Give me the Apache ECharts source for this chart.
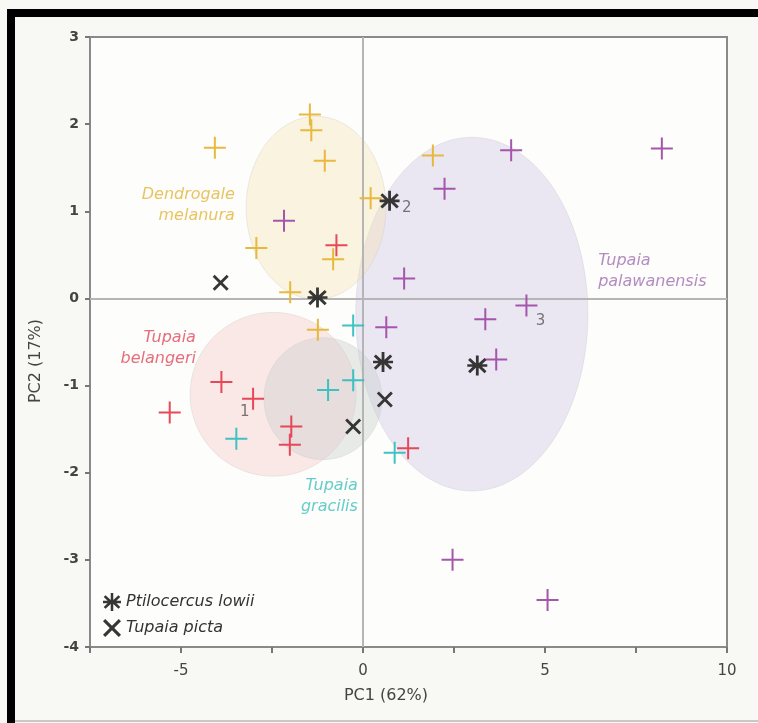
<!DOCTYPE html>
<html>
<head>
<meta charset="utf-8">
<script src="https://cdn.jsdelivr.net/npm/echarts@6/dist/echarts.min.js"></script>
<style>
html,body{margin:0;padding:0;background:#f8f8f4;}
#c{width:758px;height:723px;}
</style>
</head>
<body>
<div id="c"></div>
<script>
// ---- data (PC1, PC2) ----
const dendrogale = [[-4.07,1.73],[-1.46,2.11],[-1.42,1.93],[-1.05,1.58],[0.21,1.15],[-2.93,0.58],[-0.82,0.45],[-2.0,0.07],[1.92,1.64],[-1.24,-0.36]];
const belangeri = [[-0.73,0.61],[-3.89,-0.96],[-3.02,-1.15],[-5.31,-1.31],[-1.97,-1.47],[-2.01,-1.68],[1.24,-1.72]];
const gracilis = [[-0.27,-0.31],[-0.27,-0.94],[-0.96,-1.05],[-3.48,-1.61],[0.87,-1.77]];
const palawanensis = [[-2.17,0.89],[0.64,-0.33],[4.07,1.70],[8.21,1.72],[2.24,1.26],[1.13,0.23],[4.49,-0.08],[3.36,-0.24],[3.66,-0.70],[2.46,-3.0],[5.07,-3.46]];
const lowii = [[0.73,1.12],[-1.25,0.01],[0.55,-0.73],[3.14,-0.77]];
const picta = [[-3.91,0.18],[0.60,-1.16],[-0.27,-1.47]];

// ellipses: [cx, cy, rx, ry]
const ellDendrogale = [-1.29,1.04,1.92,1.05];
const ellBelangeri = [-2.47,-1.10,2.28,0.94];
const ellGracilis = [-1.10,-1.15,1.62,0.70];
const ellPalawanensis = [2.99,-0.18,3.19,2.03];

// group labels: [x, y, text, colour, align]
const groupLabels = [
  [-3.52,1.07,'Dendrogale\nmelanura','#e3b43a','right'],
  [-4.59,-0.57,'Tupaia\nbelangeri','#e0485a','right'],
  [-0.14,-2.27,'Tupaia\ngracilis','#3fbfbd','right'],
  [6.46,0.31,'Tupaia\npalawanensis','#a16fb4','left']
];
// specimen numbers: [x, y, text]
const numLabels = [[-3.25,-1.31,'1'],[1.2,1.04,'2'],[4.88,-0.26,'3']];

const xTicks = [-5,0,5,10];

const PLUS = 'path://M-1,-11L1,-11L1,-1L11,-1L11,1L1,1L1,11L-1,11L-1,1L-11,1L-11,-1L-1,-1Z';
const STAR = 'path://M-1.4,-10L1.4,-10L1.4,-2.2L7.2,-7.6L9.2,-5.6L3.4,0L9.2,5.6L7.2,7.6L1.4,2.2L1.4,10L-1.4,10L-1.4,2.2L-7.2,7.6L-9.2,5.6L-3.4,0L-9.2,-5.6L-7.2,-7.6L-1.4,-2.2Z M-10,-1.3L10,-1.3L10,1.3L-10,1.3Z';
const CROSS = 'path://M-8,-6L-6,-8L0,-2L6,-8L8,-6L2,0L8,6L6,8L0,2L-6,8L-8,6L-2,0Z';
const FONT = 'DejaVu Sans, Liberation Sans, sans-serif';

function ellipseSeries(e, color, z){
  return {
    type:'custom', z:z, silent:true,
    data:[e],
    renderItem:function(params, api){
      const cx=api.value(0), cy=api.value(1), rx=api.value(2), ry=api.value(3);
      const pts=[];
      for(let i=0;i<120;i++){
        const t=i/120*2*Math.PI;
        pts.push(api.coord([cx+rx*Math.cos(t), cy+ry*Math.sin(t)]));
      }
      return {type:'polygon', shape:{points:pts}, style:{fill:color, stroke:'rgba(200,200,200,0.35)', lineWidth:1}};
    }
  };
}

function scatter(name, data, color, symbol, size){
  return {name:name, type:'scatter', data:data, symbol:symbol, symbolSize:size, itemStyle:{color:color, opacity:0.95}, z:5};
}

const chart = echarts.init(document.getElementById('c'));
chart.setOption({
  backgroundColor:'#f8f8f4',
  animation:false,
  textStyle:{fontFamily:FONT},
  grid:{left:90,right:31,top:37,bottom:76,show:true,backgroundColor:'#fdfdfb',borderColor:'#8a8a8a',borderWidth:2},
  xAxis:{
    type:'value', min:-7.5, max:10, interval:2.5,
    axisLine:{show:true,onZero:false,lineStyle:{color:'#8a8a8a',width:2}},
    axisTick:{show:true,length:6,lineStyle:{color:'#777',width:2}},
    axisLabel:{color:'#444',fontSize:15,margin:17,fontFamily:FONT,formatter:function(v){return xTicks.indexOf(v)>=0?String(v):'';}},
    splitLine:{show:false}
  },
  yAxis:{
    type:'value', min:-4, max:3, interval:1,
    axisLine:{show:true,onZero:false,lineStyle:{color:'#8a8a8a',width:2}},
    axisTick:{show:true,length:5,lineStyle:{color:'#777',width:2}},
    axisLabel:{color:'#444',fontSize:14,fontWeight:'bold',margin:11,fontFamily:FONT},
    splitLine:{show:false}
  },
  legend:{
    orient:'vertical', left:98, top:588, itemGap:8, itemWidth:18, itemHeight:18,
    data:['Ptilocercus lowii','Tupaia picta'],
    textStyle:{fontStyle:'italic',color:'#333',fontSize:16,fontFamily:FONT},
    selectedMode:false
  },
  graphic:[
    {type:'rect',shape:{x:7,y:9,width:751,height:8},style:{fill:'#000'},z:100},
    {type:'rect',shape:{x:7,y:9,width:8,height:714},style:{fill:'#000'},z:100},
    {type:'rect',shape:{x:15,y:720,width:743,height:2},style:{fill:'#c8c8c8'},z:100},
    {type:'text',x:386,y:696,style:{text:'PC1 (62%)',fill:'#444',font:'16px DejaVu Sans, Liberation Sans, sans-serif',textAlign:'center',textVerticalAlign:'middle'},z:100},
    {type:'text',x:36,y:361,rotation:Math.PI/2,style:{text:'PC2 (17%)',fill:'#444',font:'16px DejaVu Sans, Liberation Sans, sans-serif',textAlign:'center',textVerticalAlign:'middle'},z:100}
  ],
  series:[
    ellipseSeries(ellPalawanensis,'rgba(205,195,230,0.40)',1),
    ellipseSeries(ellDendrogale,'rgba(245,225,180,0.38)',1),
    ellipseSeries(ellBelangeri,'rgba(245,200,200,0.40)',1),
    ellipseSeries(ellGracilis,'rgba(200,205,205,0.40)',2),
    {
      type:'line', data:[], silent:true,
      markLine:{symbol:'none',silent:true,label:{show:false},lineStyle:{color:'#b5b5b5',width:2,type:'solid'},
        data:[{xAxis:0},{yAxis:0}]}
    },
    scatter('Dendrogale melanura', dendrogale, '#e7b535', PLUS, 22),
    scatter('Tupaia belangeri', belangeri, '#e53f50', PLUS, 22),
    scatter('Tupaia gracilis', gracilis, '#35c0bf', PLUS, 22),
    scatter('Tupaia palawanensis', palawanensis, '#a04ea8', PLUS, 22),
    scatter('Ptilocercus lowii', lowii, '#2b2b2b', STAR, 20),
    scatter('Tupaia picta', picta, '#2b2b2b', CROSS, 16),
    {
      type:'scatter', silent:true, symbolSize:0, z:6,
      data:groupLabels.map(function(g){return {value:[g[0],g[1]],label:{show:true,formatter:g[2],color:g[3],align:g[4],verticalAlign:'middle',position:'inside',fontStyle:'italic',fontSize:16,lineHeight:21,fontFamily:FONT}};})
    },
    {
      type:'scatter', silent:true, symbolSize:0, z:6,
      data:numLabels.map(function(g){return {value:[g[0],g[1]],label:{show:true,formatter:g[2],position:'inside',color:'#555',fontSize:15,fontFamily:FONT}};})
    }
  ]
});
</script>
</body>
</html>
